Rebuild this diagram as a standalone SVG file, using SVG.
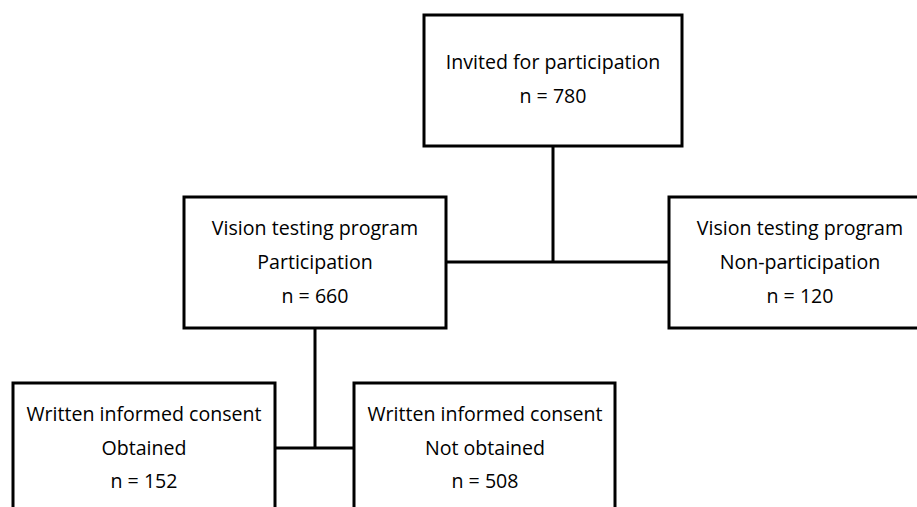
<svg xmlns="http://www.w3.org/2000/svg" width="917" height="507" viewBox="0 0 917 507">
<style>
.box{fill:#fff;stroke:#000;stroke-width:3}
.t{font-family:"Open Sans",Lato,sans-serif;font-size:19.6px;fill:#000;text-anchor:middle}
.c{fill:none;stroke:#000;stroke-width:3}
</style>
<rect width="917" height="507" fill="#fff"/>
<g id="connectors">
<path class="c" d="M553 146V262M447 262H669"/>
<path class="c" d="M315 328V448M275 448H354"/>
</g>
<g id="invited">
<rect class="box" x="424" y="15" width="258" height="131"/>
<text class="t" x="553" y="69">Invited for participation</text>
<text class="t" x="553" y="103">n = 780</text>
</g>
<g id="participation">
<rect class="box" x="184" y="197" width="262" height="131"/>
<text class="t" x="315" y="235">Vision testing program</text>
<text class="t" x="315" y="269">Participation</text>
<text class="t" x="315" y="303">n = 660</text>
</g>
<g id="nonparticipation">
<rect class="box" x="669" y="197" width="262" height="131"/>
<text class="t" x="800" y="235">Vision testing program</text>
<text class="t" x="800" y="269">Non-participation</text>
<text class="t" x="800" y="303">n = 120</text>
</g>
<g id="obtained">
<rect class="box" x="13" y="383" width="262" height="140"/>
<text class="t" x="144" y="421">Written informed consent</text>
<text class="t" x="144" y="455">Obtained</text>
<text class="t" x="144" y="488">n = 152</text>
</g>
<g id="notobtained">
<rect class="box" x="354" y="383" width="261" height="140"/>
<text class="t" x="485" y="421">Written informed consent</text>
<text class="t" x="485" y="455">Not obtained</text>
<text class="t" x="485" y="488">n = 508</text>
</g>
</svg>
